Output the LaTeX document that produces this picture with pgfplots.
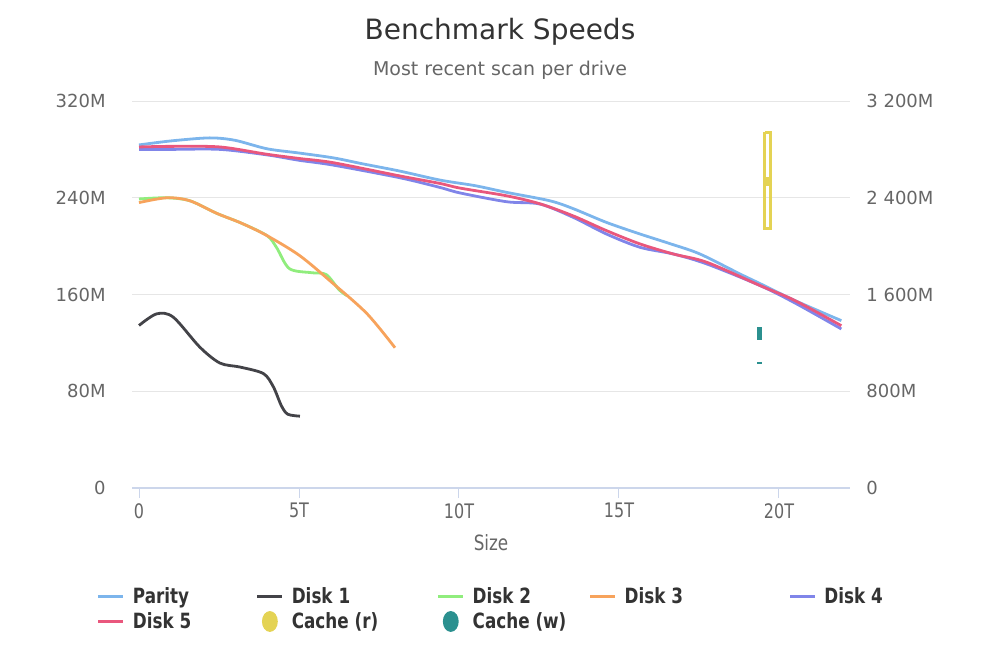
\documentclass[border=0pt]{standalone}
\usepackage{pgfplots}
\pgfplotsset{compat=1.18}
\usepackage{fontspec}
\setmainfont{DejaVu Sans}
\newfontfamily\condfont[FakeStretch=0.8]{DejaVu Sans}
\definecolor{cParity}{HTML}{7CB5EC}
\definecolor{cD1}{HTML}{434348}
\definecolor{cD2}{HTML}{90ED7D}
\definecolor{cD3}{HTML}{F7A35C}
\definecolor{cD4}{HTML}{8085E9}
\definecolor{cD5}{HTML}{E9577D}
\definecolor{cCr}{HTML}{E4D354}
\definecolor{cCw}{HTML}{2B908F}
\definecolor{gridc}{HTML}{E6E6E6}
\definecolor{axisc}{HTML}{CCD6EB}
\definecolor{txt}{HTML}{666666}
\definecolor{ttl}{HTML}{333333}
\begin{document}
\begin{tikzpicture}
\useasboundingbox (0,0) rectangle (500pt,333pt);
\node[anchor=base, font=\fontsize{14}{16}\selectfont, text=ttl] at (250pt,313pt) {Benchmark Speeds};
\node[anchor=base, font=\fontsize{9.5}{11}\selectfont, text=txt] at (250pt,295.5pt) {Most recent scan per drive};
\begin{axis}[
  at={(66pt,89pt)}, anchor=south west, scale only axis,
  width=359pt, height=193.5pt,
  xmin=-0.219, xmax=22.22, ymin=0, ymax=320,
  axis x line*=bottom, axis y line*=left,
  x axis line style={draw=axisc, line width=0.75pt, -},
  y axis line style={draw=none},
  xtick={0,5,10,15,20}, xticklabels={0,5T,10T,15T,20T},
  ytick={0,80,160,240,320}, yticklabels={0,80M,160M,240M,320M},
  tick align=outside, major tick length=5pt,
  xtick style={draw=axisc, line width=0.5pt},
  ytick style={draw=none},
  ymajorgrids, grid style={draw=gridc, line width=0.5pt},
  xticklabel style={font=\condfont\fontsize{10}{11}\selectfont, text=txt, inner sep=0pt, anchor=north, yshift=-2.5pt},
  yticklabel style={font=\fontsize{9}{11}\selectfont, text=txt, inner sep=0pt, anchor=east, xshift=-8pt},
  xlabel={Size},
  xlabel style={at={(axis description cs:0.5,-0.142)}, anchor=center, font=\condfont\fontsize{10.5}{12}\selectfont, text=txt},
  legend columns=5, legend cell align=left,
  legend image code/.code={\draw[#1, line width=1.5pt] (0pt,0pt) -- (12.5pt,0pt); \path (16.5pt,0pt);},
  legend style={draw=none, fill=none, inner sep=0pt, outer sep=0pt, column sep=0pt, row sep=3pt,
    at={(axis description cs:-0.04875,-0.2560)}, anchor=north west,
    font=\condfont\bfseries\fontsize{10.5}{12}\selectfont, text=ttl,
    nodes={inner sep=0pt, text height=8pt, text depth=1pt}},
  every axis plot/.append style={line width=1.4pt, smooth, tension=0.5, mark=none},
]
\addplot[cParity] coordinates {(0,283.7) (1.0,287) (2.2,289.5) (3.0,287.5) (4.0,280.5) (5.0,277) (6.07,273) (7.0,268) (8.16,262) (9.41,254.6) (10.5,250) (11.5,244.4) (12.84,237.5) (13.57,231) (14.61,219.6) (15.66,210) (16.6,202) (17.53,193.5) (18.78,177) (19.41,169) (20.5,155) (21.95,138.4)};
\addlegendentry{\makebox[61.5pt][l]{Parity}}
\addplot[cD1] coordinates {(0,134.4) (0.55,144) (1.07,141.3) (1.9,116.5) (2.53,103.3) (3.16,100) (3.89,94.6) (4.2,83.6) (4.45,68) (4.65,61) (5.03,59.4)};
\addlegendentry{\makebox[72.5pt][l]{Disk 1}}
\addplot[cD2] coordinates {(0,239) (0.87,240) (1.59,237.5) (2.44,227) (3.2,219) (4.0,208.7) (4.3,198.8) (4.7,181.4) (5.4,178) (5.85,176.5) (6.25,164) (6.5,159)};
\addlegendentry{\makebox[58pt][l]{Disk 2}}
\addplot[cD3] coordinates {(0,236) (0.87,240) (1.59,237.5) (2.44,227) (3.2,219) (4.0,208.7) (5.03,192) (6.07,169) (7.13,144) (8.0,116)};
\addlegendentry{\makebox[82pt][l]{Disk 3}}
\addplot[cD4] coordinates {(0,280) (1,280) (2.53,280) (3.99,275.5) (5.0,271) (6.07,267) (8.16,256.5) (9.41,248.5) (10.03,244) (11.49,236.7) (12.53,234.8) (13.57,223.8) (14.61,210) (15.66,199) (16.7,193.5) (17.74,185.3) (19.41,167.4) (20.5,153) (21.95,131.5)};
\addlegendentry{Disk 4}
\addplot[cD5] coordinates {(0,282) (1,282.5) (2.53,282) (3.99,276) (5.0,272.5) (6.07,269) (8.16,258) (9.41,251.8) (10.03,248) (11.49,241.6) (12.53,235) (13.57,225) (14.61,212.8) (15.66,201.8) (16.7,193.5) (17.74,186.7) (19.41,167.4) (20.5,155) (21.95,134.2)};
\addlegendentry{\makebox[61.5pt][l]{Disk 5}}
\addlegendimage{legend image code/.code={\fill[cCr] (6.25pt,0pt) ellipse [x radius=3.25pt, y radius=4.5pt]; \path (0pt,0pt) (16.5pt,0pt);}}
\addlegendentry{\makebox[72.5pt][l]{Cache (r)}}
\addlegendimage{legend image code/.code={\fill[cCw] (6.25pt,0pt) ellipse [x radius=3.25pt, y radius=4.5pt]; \path (0pt,0pt) (16.5pt,0pt);}}
\addlegendentry{\makebox[58pt][l]{Cache (w)}}
\node[rotate=90, font=\fontsize{9}{11}\selectfont, text=txt] at (axis description cs:-0.1379,0.504) {Speed};
\end{axis}
\begin{axis}[
  at={(66pt,89pt)}, anchor=south west, scale only axis,
  width=359pt, height=193.5pt,
  xmin=-0.219, xmax=22.22, ymin=0, ymax=3200,
  axis x line=none, axis y line*=right,
  y axis line style={draw=none}, ytick style={draw=none},
  ytick={0,800,1600,2400,3200}, yticklabels={0,800M,1~600M,2~400M,3~200M},
  yticklabel style={font=\fontsize{9}{11}\selectfont, text=txt, inner sep=0pt, anchor=west, xshift=8pt},
  unbounded coords=jump,
]
\addplot[cCr, line width=1.4pt, line join=miter, mark=none] coordinates {(19.55,2942) (19.55,2144) (19.73,2144) (19.73,2942) (19.55,2942)};
\addplot[cCr, line width=1.5pt, mark=none] coordinates {(19.64,2569) (19.64,2495)};
\addplot[cCw, line width=2.5pt, mark=none] coordinates {(19.38,1330) (19.38,1221) (19.38,nan) (19.38,1042) (19.38,1023)};
\node[rotate=-90, font=\fontsize{9}{11}\selectfont, text=txt] at (axis description cs:1.16,0.506) {SSD Speed};
\end{axis}
\end{tikzpicture}
\end{document}
